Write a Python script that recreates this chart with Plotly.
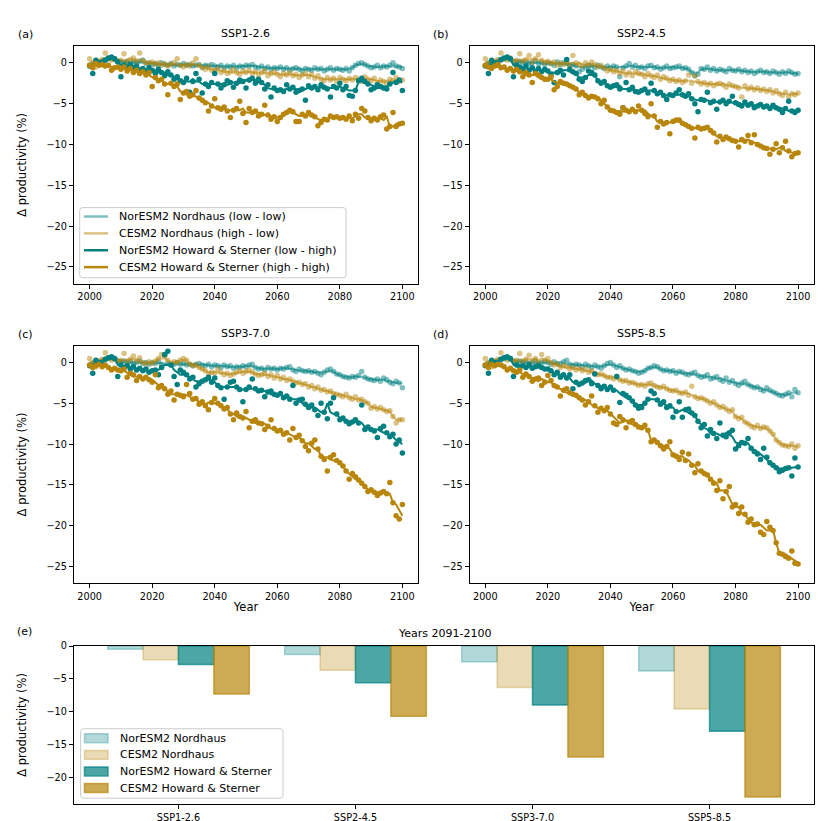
import pandas as pd
import plotly.graph_objects as go

years = list(range(2000, 2101))

# ---------------- SSP1-2.6 ----------------
ssp126_noresm_nordhaus = [
    -0.3, -0.2, 0.1, 0.0, 0.2, 0.4, 0.5, 0.6, 0.4, 0.2,
    0.1, 0.0, 0.2, -0.1, 0.1, 0.0, 0.2, 0.3, -0.1, 0.0,
    -0.2, -0.1, -0.3, 0.0, -0.2, -0.3, -0.1, -0.4, -0.2, -0.3,
    -0.1, -0.3, -0.2, -0.4, -0.3, -0.2, -0.5, -0.3, -0.4, -0.2,
    -0.4, -0.5, -0.3, -0.6, -0.4, -0.5, -0.3, -0.6, -0.4, -0.5,
    -0.3, -0.4, -0.2, -0.5, -0.6, -0.4, -0.7, -0.5, -0.8, -0.6,
    -0.7, -0.5, -0.8, -0.6, -0.9, -0.7, -0.6, -0.8, -1.0, -0.7,
    -0.8, -0.9, -0.6, -0.8, -0.7, -1.0, -0.8, -0.6, -0.9, -0.7,
    -0.8, -0.9, -0.7, -1.0, -0.6, -0.3, -0.1, 0.0, -0.2, -0.4,
    -0.6, -0.5, -0.3, -0.6, -0.4, -0.5, -0.3, 0.0, -0.4, -0.5,
    -0.7]
ssp126_cesm_nordhaus = [
    0.5, 0.0, -0.5, 0.2, 0.4, 1.2, 0.6, 0.3, 0.5, 0.2,
    0.3, 1.1, 0.1, 0.4, 0.6, 0.2, 1.2, 0.3, 0.0, -0.1,
    0.1, -0.2, 0.0, -0.3, -0.1, -0.4, -0.2, 0.0, 0.5, -0.3,
    -0.5, -0.2, -0.4, 0.0, 0.5, -0.3, -0.6, -0.8, -0.5, -0.9,
    -1.0, -0.7, -1.2, -0.9, -1.3, -1.1, -0.8, -1.2, -1.4, -1.0,
    -1.2, -0.9, -1.3, -1.1, -1.5, -1.2, -1.0, -1.6, -1.3, -1.1,
    -1.4, -1.7, -1.3, -1.5, -1.2, -1.6, -1.4, -1.8, -1.5, -1.3,
    -1.7, -1.4, -1.9, -1.6, -2.0, -2.2, -1.8, -2.1, -1.9, -2.3,
    -1.8, -2.0, -2.2, -1.9, -2.1, -1.8, -2.0, -2.3, -1.7, -2.0,
    -2.2, -1.9, -2.4, -2.1, -2.3, -2.5, -2.0, -2.2, -1.8, -2.3,
    -2.1]
ssp126_noresm_hs = [
    -0.4, -1.3, 0.3, 0.0, -0.2, 0.3, 0.6, 0.7, 0.5, 0.1,
    -1.7, -0.3, -0.5, -0.2, -0.6, -0.4, -0.9, -0.7, -1.0, -0.6,
    -0.9, -1.3, -0.8, -1.2, -1.6, -1.1, -1.5, -2.0, -1.7, -2.2,
    -2.4, -1.9, -3.6, -2.3, -1.3, -2.0, -3.7, -2.6, -2.9, -2.4,
    -1.3, -2.6, -3.1, -2.7, -2.2, -2.4, -3.0, -2.5, -2.1, -2.3,
    -3.1, -2.1, -1.9, -2.5, -2.0, -2.4, -3.2, -2.7, -4.2, -3.1,
    -3.4, -3.3, -3.5, -2.7, -3.2, -3.0, -3.6, -3.4, -3.2, -4.6,
    -2.8, -3.1, -2.9, -3.3, -2.7, -3.0, -3.2, -4.2, -2.9, -3.1,
    -2.5, -3.3, -2.9, -4.0, -4.1, -3.4, -2.2, -1.9, -2.3, -2.6,
    -3.3, -3.1, -2.7, -2.9, -3.1, -3.2, -2.6, -1.2, -2.4, -2.1,
    -3.4]
ssp126_cesm_hs = [
    -0.3, -0.6, -0.1, -0.3, -0.2, -0.4, -0.3, -0.9, -0.6, -0.5,
    -0.8, -0.5, -1.0, -0.7, -1.2, -0.9, -1.3, -1.1, -1.5, -1.2,
    -2.9, -1.8, -2.2, -2.0, -2.6, -3.9, -2.5, -2.9, -2.6, -4.5,
    -3.7, -3.5, -4.1, -3.9, -3.4, -4.3, -4.6, -4.9, -5.9, -5.3,
    -4.4, -5.5, -5.7, -5.4, -5.9, -6.7, -5.8, -5.6, -4.7, -6.2,
    -7.3, -5.6, -6.1, -5.9, -6.5, -6.3, -5.2, -6.4, -6.9, -6.6,
    -7.2, -6.7, -6.3, -6.1, -5.8, -6.0, -7.2, -7.2, -6.3, -6.5,
    -6.1, -6.4, -6.6, -7.7, -7.3, -6.9, -7.0, -6.5, -6.7, -6.6,
    -6.8, -6.7, -6.9, -6.5, -7.1, -6.3, -6.8, -5.6, -5.9, -6.7,
    -7.1, -6.8, -7.0, -6.6, -6.4, -8.1, -7.8, -6.1, -7.8, -7.5,
    -7.4]

# ---------------- SSP2-4.5 ----------------
ssp245_noresm_nordhaus = [
    -0.3, -0.1, 0.1, 0.0, 0.2, 0.3, 0.5, 0.6, 0.4, 0.2,
    0.1, 0.2, 0.0, 0.1, -0.1, 0.0, 0.2, -0.1, 0.0, -0.2,
    0.0, -0.1, -0.3, 0.1, -0.2, 0.0, -0.1, -0.3, -0.2, -0.4,
    -1.1, -0.8, -0.5, -0.3, -0.4, -0.6, -0.3, -0.5, -0.7, -0.4,
    -0.6, -0.4, -0.5, -1.7, -0.6, -0.4, -0.1, -0.5, -0.3, -0.6,
    -0.5, -0.7, -0.4, -0.3, -0.6, -0.5, -0.8, -0.6, -0.4, -0.7,
    -0.6, -0.5, -0.4, -0.7, -0.6, -0.8, -1.2, -1.6, -1.4, -0.7,
    -0.8, -0.5, -0.9, -0.7, -1.0, -0.8, -0.9, -1.1, -0.7, -0.9,
    -1.0, -0.8, -1.1, -0.9, -1.2, -1.0, -1.3, -1.1, -0.9, -1.2,
    -1.1, -1.3, -1.0, -1.2, -1.4, -1.1, -1.3, -1.0, -1.2, -1.4,
    -1.3]
ssp245_cesm_nordhaus = [
    0.5, 0.0, -0.5, 0.2, 0.4, 1.2, 0.5, 0.3, 0.6, 0.2,
    0.3, 1.1, 0.2, 0.4, 0.9, 0.1, 0.5, 1.0, 0.3, 0.0,
    0.2, -0.1, 0.1, -0.3, 0.0, -0.2, 0.1, -0.4, 0.9, 0.0,
    -0.2, -0.4, 0.0, -0.3, 0.1, -0.2, -0.5, -0.3, -0.6, -1.0,
    -0.8, -1.1, -0.9, -1.3, -1.0, -1.5, -1.2, -1.6, -1.1, -1.3,
    -1.4, -1.7, -1.3, -1.6, -1.8, -1.5, -2.0, -1.7, -1.9, -2.2,
    -2.0, -2.3, -2.1, -2.4, -2.2, -1.5, -2.5, -1.6, -2.3, -2.6,
    -2.4, -2.7, -2.5, -2.8, -2.6, -2.5, -2.7, -3.0, -2.6, -2.8,
    -2.9, -3.1, -4.2, -2.8, -3.2, -3.0, -3.3, -3.1, -3.4, -3.2,
    -3.5, -3.3, -3.7, -3.4, -3.8, -4.0, -3.6, -4.2, -3.8, -3.9,
    -3.7]
ssp245_noresm_hs = [
    -0.4, -1.3, 0.3, 0.0, -0.2, 0.4, 0.6, 0.7, 0.5, -1.7,
    -0.3, -0.5, -0.8, -0.4, -0.9, -0.6, -1.0, -0.7, -1.1, -0.8,
    -1.0, -1.4, -2.4, -1.2, -0.9, -1.5, 0.4, -0.8, -1.1, -1.3,
    -2.0, -2.3, -1.8, -1.0, -1.2, -1.5, -2.2, -2.5, -2.3, -2.8,
    -3.0, -2.8, -2.7, -3.2, -5.5, -2.4, -3.3, -3.0, -3.5, -3.6,
    -3.4, -3.2, -3.7, -2.5, -3.4, -3.8, -3.6, -4.0, -4.5, -3.9,
    -4.0, -3.7, -3.3, -3.9, -4.1, -3.8, -4.4, -5.0, -6.0, -4.5,
    -4.6, -3.6, -4.9, -4.7, -5.7, -4.8, -4.6, -5.0, -4.7, -4.1,
    -4.9, -5.1, -5.3, -4.8, -5.2, -5.0, -5.5, -5.3, -5.1, -5.4,
    -5.3, -5.6, -5.2, -5.5, -5.7, -6.1, -5.6, -4.7, -5.9, -6.1,
    -5.8]
ssp245_cesm_hs = [
    -0.3, -0.5, -0.7, -0.4, -0.2, -0.6, -0.5, -0.9, -0.7, -1.0,
    -0.8, -1.1, -1.7, -1.2, -1.5, -2.4, -1.3, -1.5, -1.8, -2.0,
    -2.0, -1.7, -3.3, -2.9, -2.3, -2.5, -2.6, -2.8, -3.0, -3.2,
    -3.9, -3.6, -4.0, -4.3, -4.1, -4.2, -4.4, -5.0, -4.6, -5.4,
    -5.8, -5.9, -6.1, -6.3, -5.5, -5.8, -6.0, -5.7, -6.0, -5.3,
    -5.8, -6.2, -6.6, -5.0, -6.5, -7.9, -7.2, -7.5, -7.3, -8.7,
    -7.2, -7.0, -7.0, -7.4, -7.6, -7.8, -8.0, -9.2, -7.9, -8.1,
    -8.0, -7.9, -8.3, -8.6, -9.7, -9.0, -9.4, -9.1, -9.3, -9.5,
    -9.6, -10.3, -9.4, -9.6, -8.9, -9.8, -8.8, -10.0, -10.2, -10.4,
    -10.5, -11.2, -10.6, -9.9, -11.0, -10.4, -9.6, -10.8, -11.5, -11.1,
    -11.0]

# ---------------- SSP3-7.0 ----------------
ssp370_noresm_nordhaus = [
    -0.3, -0.1, 0.1, 0.0, 0.2, 0.4, 0.5, 0.6, 0.4, 0.2,
    0.1, 0.2, 0.0, 0.1, -0.1, 0.0, 0.2, -0.1, 0.0, -0.2,
    0.0, -0.1, 0.1, -0.2, 0.9, -0.1, -0.3, -0.2, 0.0, -0.2,
    -0.1, -0.3, -0.2, -0.4, -0.2, -0.1, -0.3, -0.4, -0.2, -0.5,
    -0.3, -0.4, -0.6, -0.3, -0.5, -0.4, -0.7, -0.5, -0.6, -0.4,
    -0.5, -0.3, -0.2, -0.6, -0.8, -0.7, -0.9, -0.6, -0.8, -0.7,
    -0.9, -0.7, -0.8, -0.6, -0.5, -0.9, -1.1, -0.8, -1.0, -1.1,
    -1.0, -1.2, -1.1, -1.3, -1.5, -1.2, -0.9, -0.8, -1.1, -1.4,
    -1.5, -1.7, -1.8, -1.9, -1.7, -1.8, -1.6, -1.1, -1.8, -2.0,
    -2.1, -2.2, -2.0, -2.3, -1.9, -2.1, -2.4, -2.6, -2.3, -2.5,
    -3.1]
ssp370_cesm_nordhaus = [
    0.5, 0.0, -0.5, 0.2, 0.4, 1.2, 0.6, 0.3, 0.5, 0.2,
    0.3, 1.1, 0.1, 0.4, 0.8, 0.2, 0.6, 0.0, -0.2, 0.1,
    -0.1, 0.2, 0.5, 1.0, 0.8, 0.3, -0.2, 0.1, 0.0, 0.3,
    0.5, 0.3, -0.2, -0.4, -0.3, -0.6, -0.8, -1.0, -1.4, -1.2,
    -1.3, -0.8, -1.2, -1.5, -1.3, -1.6, -1.4, -1.2, -1.0, -1.3,
    -1.1, -0.9, -1.2, -1.4, -1.6, -1.5, -1.3, -1.7, -1.5, -1.9,
    -1.6, -2.0, -1.8, -2.2, -2.0, -2.3, -2.5, -2.4, -2.7, -2.6,
    -3.0, -2.8, -3.2, -3.0, -3.4, -3.3, -3.6, -3.5, -3.8, -3.9,
    -4.0, -4.2, -3.9, -4.3, -4.5, -4.2, -4.6, -4.5, -4.8, -5.0,
    -5.6, -5.4, -5.7, -5.5, -5.8, -6.0, -5.9, -6.6, -7.4, -7.0,
    -7.0]
ssp370_noresm_hs = [
    -0.4, -1.3, 0.3, 0.0, -0.2, 0.4, 0.6, 0.7, 0.5, -1.7,
    -0.3, -0.6, -0.4, -0.8, -0.5, -0.9, -0.7, -1.0, -0.8, -1.2,
    -1.0, -0.9, -1.5, -0.6, 1.0, 1.4, -0.3, -1.7, -2.7, -0.9,
    -1.2, -1.5, -2.0, -1.8, -3.0, -2.6, -2.3, -2.1, -1.8, -2.4,
    -1.9, -2.8, -3.1, -4.5, -3.0, -2.4, -2.3, -3.0, -3.3, -4.8,
    -3.3, -3.0, -2.0, -3.2, -3.5, -3.4, -4.2, -3.6, -3.5, -3.9,
    -4.0, -3.8, -4.3, -4.1, -4.5, -2.8, -5.0, -4.6, -4.5, -5.1,
    -5.5, -5.2, -5.8, -6.5, -5.0, -6.1, -6.9, -5.0, -4.3, -6.3,
    -7.0, -6.8, -7.2, -7.5, -7.3, -7.0, -7.4, -5.2, -8.2, -7.9,
    -8.2, -8.4, -9.2, -8.1, -7.8, -8.6, -9.1, -8.8, -10.0, -9.5,
    -11.1]
ssp370_cesm_hs = [
    -0.3, -0.6, -0.4, -0.2, -0.5, -0.3, -0.6, -0.9, -0.7, -0.9,
    -1.0, -0.8, -1.8, -1.3, -1.5, -2.2, -1.7, -2.0, -1.8, -2.1,
    -2.4, -1.5, -3.1, -2.8, -3.2, -3.9, -3.5, -4.6, -3.9, -4.0,
    -4.2, -2.7, -3.8, -4.5, -4.4, -5.1, -4.8, -5.3, -5.8, -4.9,
    -4.4, -5.0, -5.3, -5.7, -5.5, -6.3, -7.0, -6.2, -6.6, -6.8,
    -6.0, -8.0, -7.2, -7.0, -7.4, -7.5, -8.2, -7.8, -7.0, -8.1,
    -8.4, -8.3, -8.8, -8.6, -9.5, -8.1, -9.2, -8.9, -9.6, -10.3,
    -10.8, -9.9, -9.5, -10.6, -11.5, -11.9, -13.3, -11.6, -11.3, -12.0,
    -12.3, -12.7, -13.3, -14.3, -13.6, -14.0, -14.4, -14.8, -15.2, -15.8,
    -15.6, -15.9, -16.3, -16.0, -15.8, -16.1, -14.7, -17.2, -18.8, -19.2,
    -17.4]

# ---------------- SSP5-8.5 ----------------
ssp585_noresm_nordhaus = [
    -0.3, -0.1, 0.1, 0.0, 0.2, 0.4, 0.5, 0.6, 0.4, 0.2,
    0.1, 0.2, 0.0, 0.1, -0.1, 0.0, 0.2, -0.1, 0.0, 0.1,
    0.0, -0.2, 0.1, -0.1, -0.3, 0.1, 0.3, -0.2, -0.4, -0.2,
    -0.3, -0.5, -0.2, -0.4, -0.6, -0.3, -0.5, -0.7, -0.4, -0.1,
    0.0, -0.3, -0.6, -0.4, -0.7, -0.9, -0.8, -1.0, -1.1, -1.3,
    -1.2, -1.0, -0.7, -0.6, -0.4, -0.5, -0.8, -1.0, -0.9, -1.1,
    -1.0, -1.3, -1.1, -1.2, -1.4, -1.5, -1.3, -1.2, -1.6, -1.8,
    -1.7, -1.5, -2.0, -1.9, -1.7, -2.1, -2.3, -1.9, -2.4, -2.2,
    -2.6, -2.8, -2.5, -2.3, -2.7, -2.9, -3.1, -3.0, -3.3, -3.5,
    -3.1, -3.4, -3.6, -3.8, -4.0, -4.1, -3.9, -3.7, -4.2, -3.3,
    -3.7]
ssp585_cesm_nordhaus = [
    0.5, 0.0, -0.5, 0.2, 0.4, 1.2, 0.6, 0.3, 0.5, 0.2,
    0.3, 1.1, 0.1, 0.4, 0.9, 0.2, 0.5, 0.0, 1.0, 0.3,
    0.5, 0.0, -0.3, -0.2, -0.6, -0.4, -0.5, -0.8, -0.6, -0.9,
    -0.7, -1.0, -0.8, -1.2, -1.0, -1.3, -1.5, -1.4, -1.6, -1.8,
    -1.8, -2.0, -1.7, -2.1, -2.3, -2.2, -2.5, -2.4, -2.6, -2.8,
    -2.7, -2.9, -2.6, -2.5, -2.8, -3.0, -3.1, -2.9, -3.2, -3.4,
    -3.5, -3.4, -3.7, -3.8, -3.6, -4.0, -2.9, -4.2, -4.4, -4.3,
    -4.5, -4.7, -5.0, -4.8, -5.2, -5.5, -5.4, -5.7, -6.0, -5.8,
    -6.6, -6.9, -6.7, -7.3, -7.5, -7.8, -8.0, -7.7, -8.1, -7.9,
    -8.0, -8.4, -8.8, -9.5, -9.8, -10.1, -10.2, -10.3, -10.0, -10.5,
    -10.2]
ssp585_noresm_hs = [
    -0.4, -1.3, 0.3, 0.0, -0.2, 0.4, 0.6, 0.7, 0.5, -1.7,
    -0.3, -0.5, -0.4, -0.6, -0.3, -0.7, -0.5, -0.4, -0.6, -0.8,
    -0.8, -1.0, -1.5, -1.2, -1.8, -1.5, -1.9, -1.5, -3.2, -2.4,
    -2.7, -2.5, -2.2, -2.1, -2.6, -1.4, -2.8, -3.2, -2.9, -3.3,
    -3.0, -3.4, -1.7, -4.9, -3.8, -4.0, -4.3, -4.7, -5.2, -5.6,
    -5.5, -5.0, -4.5, -3.5, -3.8, -4.6, -5.1, -4.8, -5.5, -5.3,
    -6.7, -6.0, -4.8, -6.7, -5.8, -5.7, -6.2, -6.5, -7.2, -8.0,
    -7.6, -9.0, -8.2, -8.7, -9.3, -7.4, -8.9, -9.1, -8.6, -8.3,
    -10.6, -10.2, -9.8, -9.9, -9.3, -10.5, -10.9, -11.2, -11.9, -10.5,
    -11.6, -12.3, -12.6, -12.9, -13.4, -13.2, -13.0, -12.9, -13.9, -11.7,
    -12.8]
ssp585_cesm_hs = [
    -0.3, -0.6, -0.2, -0.4, -0.2, -0.3, -0.5, -0.9, -0.7, -1.0,
    -1.2, -0.9, -1.8, -1.4, -1.7, -2.3, -2.0, -1.9, -2.8, -2.4,
    -1.6, -2.2, -2.8, -3.0, -4.1, -3.4, -3.2, -3.7, -3.9, -4.0,
    -4.3, -4.6, -5.2, -4.8, -4.1, -5.3, -6.1, -5.6, -5.9, -5.5,
    -6.3, -7.4, -7.6, -6.6, -7.0, -8.0, -7.3, -7.1, -7.6, -7.9,
    -8.0, -7.7, -8.3, -9.7, -9.5, -9.8, -10.2, -10.6, -10.3, -9.7,
    -11.3, -11.5, -11.9, -11.0, -12.0, -11.2, -12.6, -13.5, -12.4, -13.3,
    -13.6, -13.8, -14.3, -14.8, -15.7, -14.5, -16.7, -15.8, -15.2, -17.7,
    -17.4, -18.5, -17.7, -18.6, -19.6, -19.2, -19.9, -19.8, -20.8, -21.1,
    -19.5, -20.2, -20.6, -22.1, -23.4, -23.5, -23.8, -24.0, -23.1, -24.6,
    -24.7]

# ---------------- Panel (e): 2091-2100 means ----------------
scenarios = ["SSP1-2.6", "SSP2-4.5", "SSP3-7.0", "SSP5-8.5"]
bar_noresm_nordhaus = [-0.5, -1.3, -2.4, -3.8]
bar_cesm_nordhaus = [-2.1, -3.7, -6.3, -9.6]
bar_noresm_hs = [-2.8, -5.6, -9.0, -13.0]
bar_cesm_hs = [-7.3, -10.7, -16.9, -23.0]

line_names = ["NorESM2 Nordhaus (low - low)", "CESM2 Nordhaus (high - low)",
              "NorESM2 Howard & Sterner (low - high)", "CESM2 Howard & Sterner (high - high)"]
bar_names = ["NorESM2 Nordhaus", "CESM2 Nordhaus",
             "NorESM2 Howard & Sterner", "CESM2 Howard & Sterner"]

TEAL = "0,128,128"
GOLD = "184,134,11"
series_colors = [TEAL, GOLD, TEAL, GOLD]
series_alpha = [0.5, 0.5, 1.0, 1.0]
bar_alpha = [0.3, 0.3, 0.7, 0.7]

FONT = "DejaVu Sans"
W, H = 831, 821

panels = [
    ("x", "y", [ssp126_noresm_nordhaus, ssp126_cesm_nordhaus, ssp126_noresm_hs, ssp126_cesm_hs]),
    ("x2", "y2", [ssp245_noresm_nordhaus, ssp245_cesm_nordhaus, ssp245_noresm_hs, ssp245_cesm_hs]),
    ("x3", "y3", [ssp370_noresm_nordhaus, ssp370_cesm_nordhaus, ssp370_noresm_hs, ssp370_cesm_hs]),
    ("x4", "y4", [ssp585_noresm_nordhaus, ssp585_cesm_nordhaus, ssp585_noresm_hs, ssp585_cesm_hs]),
]

fig = go.Figure()

for pi, (xa, ya, series) in enumerate(panels):
    for si, vals in enumerate(series):
        col = f"rgba({series_colors[si]},{series_alpha[si]})"
        smooth = pd.Series(vals).rolling(5, center=True, min_periods=1).median()
        fig.add_trace(go.Scatter(
            x=years, y=vals, mode="markers", xaxis=xa, yaxis=ya,
            marker=dict(size=5.5, color=col, line=dict(width=0)),
            name=line_names[si], showlegend=False, hoverinfo="x+y"))
        fig.add_trace(go.Scatter(
            x=years, y=smooth, mode="lines", xaxis=xa, yaxis=ya,
            line=dict(color=col, width=2),
            name=line_names[si], showlegend=False))

bar_vals = [bar_noresm_nordhaus, bar_cesm_nordhaus, bar_noresm_hs, bar_cesm_hs]
for bi, vals in enumerate(bar_vals):
    fc = f"rgba({series_colors[bi]},{bar_alpha[bi]})"
    fig.add_trace(go.Bar(
        x=scenarios, y=vals, xaxis="x5", yaxis="y5", name=bar_names[bi],
        marker=dict(color=fc, line=dict(color=fc, width=1.5)),
        showlegend=False))


def px_x(a, b):
    return [a / W, b / W]


def px_y(top, bottom):
    return [1 - bottom / H, 1 - top / H]


axis_common = dict(
    showline=True, mirror=True, linecolor="black", linewidth=1.2,
    ticks="outside", ticklen=4, tickwidth=1, tickcolor="black",
    showgrid=False, zeroline=False,
    tickfont=dict(family=FONT, size=9.7, color="black"),
)

xrange_ = [1995, 2105]
yrange_ = [-27.05, 2.05]
xt = [2000, 2020, 2040, 2060, 2080, 2100]
yt = [0, -5, -10, -15, -20, -25]

doms = {
    "": (px_x(66, 410), px_y(32.3, 271.7)),
    "2": (px_x(461.7, 805.7), px_y(32.3, 271.7)),
    "3": (px_x(66, 410), px_y(334.3, 573.3)),
    "4": (px_x(461.7, 805.7), px_y(334.3, 573.3)),
}
ytitle = "Δ productivity (%)"
title_font = dict(family=FONT, size=11.5, color="black")
for k, (xd, yd) in doms.items():
    xa = dict(axis_common, domain=xd, range=xrange_, tickvals=xt,
              anchor="y" + k)
    ya = dict(axis_common, domain=yd, range=yrange_, tickvals=yt,
              anchor="x" + k)
    if k in ("3", "4"):
        xa["title"] = dict(text="Year", font=title_font, standoff=2)
    if k in ("", "3"):
        ya["title"] = dict(text=ytitle, font=title_font, standoff=17)
    fig.update_layout(**{"xaxis" + k: xa, "yaxis" + k: ya})

fig.update_layout(
    xaxis5=dict(axis_common, domain=px_x(66, 806), range=[-0.59, 3.59], anchor="y5",
                type="category"),
    yaxis5=dict(axis_common, domain=px_y(636.7, 795.7), range=[-24.05, 0], anchor="x5",
                tickvals=[0, -5, -10, -15, -20],
                title=dict(text=ytitle, font=title_font, standoff=17)),
    barmode="group", bargap=0.2, bargroupgap=0,
)

ann = []
shapes = []


def add_text(text, x, y, size=11, xanchor="center"):
    ann.append(dict(text=text, x=x / W, y=1 - y / H, xref="paper", yref="paper",
                    xanchor=xanchor, yanchor="middle", showarrow=False,
                    font=dict(family=FONT, size=size, color="black")))


def rounded_box(x0, y0, x1, y1, r=3):
    def P(x, y):
        return f"{x / W:.5f},{1 - y / H:.5f}"
    path = (f"M {P(x0 + r, y0)} L {P(x1 - r, y0)} Q {P(x1, y0)} {P(x1, y0 + r)} "
            f"L {P(x1, y1 - r)} Q {P(x1, y1)} {P(x1 - r, y1)} "
            f"L {P(x0 + r, y1)} Q {P(x0, y1)} {P(x0, y1 - r)} "
            f"L {P(x0, y0 + r)} Q {P(x0, y0)} {P(x0 + r, y0)} Z")
    shapes.append(dict(type="path", path=path, xref="paper", yref="paper",
                       fillcolor="rgba(255,255,255,0.8)",
                       line=dict(color="rgba(204,204,204,1)", width=1)))


add_text("SSP1-2.6", 238, 20)
add_text("SSP2-4.5", 633.7, 20)
add_text("SSP3-7.0", 238, 321.5)
add_text("SSP5-8.5", 633.7, 321.5)
add_text("(a)", 8, 21, xanchor="left")
add_text("(b)", 423, 21, xanchor="left")
add_text("(c)", 8, 323, xanchor="left")
add_text("(d)", 423, 323, xanchor="left")
add_text("Years 2091-2100", 436, 624)
add_text("(e)", 7, 622, xanchor="left")

# legend of panel (a)
rounded_box(71.7, 195, 338, 265.7)
rows_a = [204, 221, 238, 255]
for i, yy in enumerate(rows_a):
    col = f"rgba({series_colors[i]},{series_alpha[i]})"
    shapes.append(dict(type="line", xref="paper", yref="paper",
                       x0=76 / W, x1=100 / W, y0=1 - yy / H, y1=1 - yy / H,
                       line=dict(color=col, width=2.5)))
    add_text(line_names[i], 109, yy, size=11, xanchor="left")

# legend of panel (e)
rounded_box(72.6, 720, 275, 790)
rows_e = [729.5, 746.3, 763, 779.7]
for i, yy in enumerate(rows_e):
    fc = f"rgba({series_colors[i]},{bar_alpha[i]})"
    shapes.append(dict(type="rect", xref="paper", yref="paper",
                       x0=76.5 / W, x1=100 / W, y0=1 - (yy + 4.5) / H, y1=1 - (yy - 4.5) / H,
                       fillcolor=fc, line=dict(color=fc, width=1.5)))
    add_text(bar_names[i], 109.5, yy, size=11, xanchor="left")

fig.update_layout(
    width=W, height=H, margin=dict(l=0, r=0, t=0, b=0),
    paper_bgcolor="white", plot_bgcolor="white",
    annotations=ann, shapes=shapes,
    font=dict(family=FONT, size=10, color="black"),
    showlegend=False,
)

fig.write_html("out.html")
